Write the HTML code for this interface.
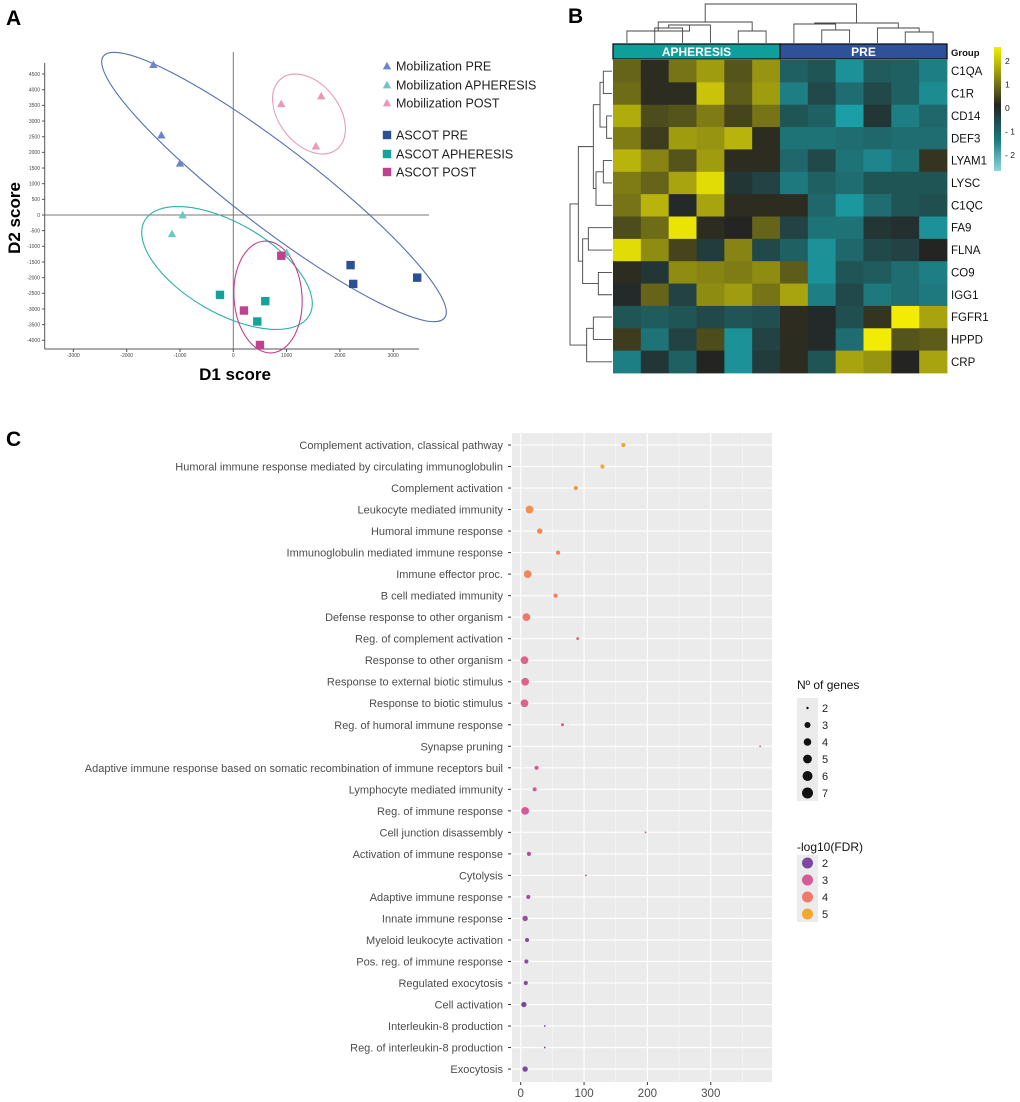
<!DOCTYPE html>
<html><head><meta charset="utf-8">
<style>
html,body{margin:0;padding:0;background:#fff;}
svg{display:block;font-family:"Liberation Sans",sans-serif;}
</style></head>
<body>
<svg id="fig" width="1020" height="1102" viewBox="0 0 1020 1102" xmlns="http://www.w3.org/2000/svg">
<text x="6" y="25" font-size="21" font-weight="bold">A</text>
<text x="568" y="23" font-size="21" font-weight="bold">B</text>
<text x="6" y="446" font-size="21" font-weight="bold">C</text>
<g id="pa"></g>
<g id="pb"></g>
<g id="pc"></g>
</svg>
<script>
const NS="http://www.w3.org/2000/svg";
function mk(parent,tag,attrs,text){const e=document.createElementNS(NS,tag);for(const k in attrs)e.setAttribute(k,attrs[k]);if(text!==undefined)e.textContent=text;parent.appendChild(e);return e;}

// ---------- Panel A data ----------
const aGroups=["Mobilization PRE","Mobilization APHERESIS","Mobilization POST","ASCOT PRE","ASCOT APHERESIS","ASCOT POST"];
const aD1=[[-1500,-1350,-1000],[-950,-1150,1000],[900,1650,1550],[2200,2250,3450],[-250,600,450],[900,200,500]];
const aD2=[[4800,2550,1650],[0,-600,-1200],[3550,3800,2200],[-1600,-2200,-2000],[-2550,-2750,-3400],[-1300,-3050,-4150]];
const aXTicks=[-3000,-2000,-1000,0,1000,2000,3000];
const aYTicks=[4500,4000,3500,3000,2500,2000,1500,1000,500,0,-500,-1000,-1500,-2000,-2500,-3000,-3500,-4000];

// ---------- Panel B data ----------
const bRows=["C1QA","C1R","CD14","DEF3","LYAM1","LYSC","C1QC","FA9","FLNA","CO9","IGG1","FGFR1","HPPD","CRP"];
const bGroups=["APHERESIS","PRE"];
const bVals=[
[0.8,0.1,1.0,1.5,0.6,1.4,-1.0,-0.8,-1.8,-0.9,-1.0,-1.5],
[0.9,0.1,0.1,2.0,0.7,1.5,-1.5,-0.6,-1.2,-0.6,-1.0,-1.7],
[1.7,0.5,0.6,1.1,0.4,1.0,-0.8,-1.0,-2.0,-0.3,-1.5,-1.1],
[1.1,0.3,1.5,1.4,1.8,0.1,-1.3,-1.3,-1.2,-1.1,-1.2,-1.2],
[1.8,1.2,0.6,1.5,0.1,0.1,-1.1,-0.6,-1.3,-1.6,-1.3,0.2],
[1.1,0.8,1.6,2.3,-0.3,-0.5,-1.4,-1.0,-1.2,-0.8,-0.8,-0.8],
[1.0,1.8,-0.1,1.6,0.1,0.1,0.1,-1.1,-1.9,-1.2,-0.8,-0.7],
[0.5,0.9,2.4,0.1,0.0,0.8,-0.5,-1.3,-1.3,-0.3,-0.2,-1.8],
[2.3,1.3,0.4,-0.4,1.2,-0.6,-1.0,-1.8,-1.1,-0.6,-0.5,0.0],
[0.1,-0.3,1.3,1.2,1.1,1.3,0.7,-1.8,-0.8,-0.9,-1.2,-1.5],
[-0.1,0.8,-0.5,1.3,1.5,1.0,1.6,-1.5,-0.6,-1.4,-1.2,-1.4],
[-0.8,-0.9,-0.8,-0.6,-0.8,-0.7,0.1,-0.1,-0.7,0.2,2.5,1.6],
[0.3,-1.3,-0.5,0.5,-1.8,-0.5,0.1,-0.1,-1.2,2.5,0.6,0.7],
[-1.5,-0.3,-1.0,0.0,-1.8,-0.4,0.1,-0.8,1.6,1.4,0.0,1.6]];
const bScaleTicks=[2,1,0,-1,-2];

// ---------- Panel C data ----------
const cTerms=["Complement activation, classical pathway","Humoral immune response mediated by circulating immunoglobulin","Complement activation","Leukocyte mediated immunity","Humoral immune response","Immunoglobulin mediated immune response","Immune effector proc.","B cell mediated immunity","Defense response to other organism","Reg. of complement activation","Response to other organism","Response to external biotic stimulus","Response to biotic stimulus","Reg. of humoral immune response","Synapse pruning","Adaptive immune response based on somatic recombination of immune receptors buil","Lymphocyte mediated immunity","Reg. of immune response","Cell junction disassembly","Activation of immune response","Cytolysis","Adaptive immune response","Innate immune response","Myeloid leukocyte activation","Pos. reg. of immune response","Regulated exocytosis","Cell activation","Interleukin-8 production","Reg. of interleukin-8 production","Exocytosis"];
const cEnrich=[162,129,87,14,30,59,11,55,9,90,6,7,6,66,378,25,22,7,197,13,103,12,7,10,9,8,5,38,38,7];
const cGenes=[4,4,4,7,5,4,7,4,7,3,7,7,7,3,2,4,4,7,2,4,2,4,5,4,4,4,5,2,2,5];
const cFDR=[5.2,5.0,4.6,4.5,4.3,4.2,4.3,4.2,3.9,3.5,3.3,3.3,3.3,3.1,3.0,3.0,3.0,3.0,2.7,2.5,2.4,2.4,2.3,2.2,2.2,2.1,2.0,2.0,2.0,2.0];
const cXTicks=[0,100,200,300];
const cSizeLegend=[2,3,4,5,6,7];
const cColorLegend=[2,3,4,5];

// ================= Panel A =================
(function(){
const g=document.getElementById('pa');
const ax=v=>233.3+v*0.0533, ay=v=>215-v*0.03132;
mk(g,'line',{x1:44.7,y1:63,x2:44.7,y2:349,stroke:'#555','stroke-width':1});
mk(g,'line',{x1:44.7,y1:349,x2:419,y2:349,stroke:'#555','stroke-width':1});
mk(g,'line',{x1:ax(0),y1:52,x2:ax(0),y2:349,stroke:'#777','stroke-width':1});
mk(g,'line',{x1:44.7,y1:ay(0),x2:429,y2:ay(0),stroke:'#777','stroke-width':1});
aYTicks.forEach(t=>{mk(g,'line',{x1:42,y1:ay(t),x2:44.7,y2:ay(t),stroke:'#555'});
 mk(g,'text',{x:40,y:ay(t)+1.8,'font-size':5,'text-anchor':'end',fill:'#444'},String(t));});
aXTicks.forEach(t=>{mk(g,'line',{x1:ax(t),y1:349,x2:ax(t),y2:352,stroke:'#555'});
 mk(g,'text',{x:ax(t),y:357,'font-size':5,'text-anchor':'middle',fill:'#444'},String(t));});
const ells=[{cx:274,cy:187,rx:215,ry:40,a:37.5,c:'#5470b0'},{cx:227,cy:268,rx:95,ry:45,a:30,c:'#2bb0aa'},{cx:268,cy:297,rx:34,ry:56,a:-4,c:'#c0408a'},{cx:309,cy:114,rx:45,ry:30,a:52,c:'#e79ab8'}];
ells.forEach((e,i)=>{const el=mk(g,'ellipse',{cx:e.cx,cy:e.cy,rx:e.rx,ry:e.ry,transform:`rotate(${e.a} ${e.cx} ${e.cy})`,fill:'none',stroke:e.c,'stroke-width':1.1});
 });
const cols=['#6a86c8','#6cc6c4','#e99ab8','#2c4f96','#12a39a','#c0428e'];
const drawMark=(x,y,k,s)=>{
 if(k<3) return mk(g,'polygon',{points:`${x},${y-s} ${x-s},${y+s*0.8} ${x+s},${y+s*0.8}`,fill:cols[k]});
 return mk(g,'rect',{x:x-s,y:y-s,width:2*s,height:2*s,fill:cols[k]});};
aD1.forEach((xs,k)=>xs.forEach((v,i)=>{const m=drawMark(ax(v),ay(aD2[k][i]),k,4.2);
 }));
const ly=[66,85,103,135,154,172];
aGroups.forEach((n,k)=>{const m=drawMark(387,ly[k],k,4.2);
 const t=mk(g,'text',{x:396,y:ly[k]+4.5,'font-size':12.5,fill:'#222'},n);});
mk(g,'text',{x:235,y:380,'font-size':17,'font-weight':'bold','text-anchor':'middle',},'D1 score');
mk(g,'text',{x:0,y:0,'font-size':17,'font-weight':'bold','text-anchor':'middle',transform:'translate(20,218) rotate(-90)',},'D2 score');
})();

// ================= Panel B =================
(function(){
const g=document.getElementById('pb');
const x0=613,x1=947,y0=60,y1=373,nc=12,nr=14,cw=(x1-x0)/nc,rh=(y1-y0)/nr;
function col(v){const lerp=(a,b,t)=>Math.round(a+(b-a)*t);
 if(v>=0){const t=Math.min(v/2.5,1);return `rgb(${lerp(36,242,t)},${lerp(36,236,t)},${lerp(34,4,t)})`;}
 const t=Math.min(-v/2.2,1);return `rgb(${lerp(36,26,t)},${lerp(36,170,t)},${lerp(34,178,t)})`;}
bVals.forEach((row,r)=>row.forEach((v,c)=>{const e=mk(g,'rect',{x:x0+c*cw,y:y0+r*rh,width:cw+0.4,height:rh+0.4,fill:col(v)});
 }));
bRows.forEach((n,r)=>{const t=mk(g,'text',{x:951,y:y0+(r+0.5)*rh+4,'font-size':11.5,fill:'#111'},n);
 });
const gc=['#0e9f9a','#2e519a'];
bGroups.forEach((n,i)=>{mk(g,'rect',{x:x0+i*6*cw,y:44,width:6*cw,height:15,fill:gc[i],stroke:'#111','stroke-width':1.3,});
 mk(g,'text',{x:x0+(i*6+3)*cw,y:56,'font-size':12,'font-weight':'bold',fill:'#fff','text-anchor':'middle'},n);});
mk(g,'text',{x:951,y:56,'font-size':9.5,'font-weight':'bold',fill:'#111',},'Group');
const defs=mk(g,'defs',{});const lg=mk(defs,'linearGradient',{id:'cb',x1:0,y1:0,x2:0,y2:1});
[[0,'#f4ee00'],[0.2,'#a0a010'],[0.47,'#242422'],[0.75,'#1a7a80'],[1,'#8fd6dc']].forEach(s=>mk(lg,'stop',{offset:s[0],'stop-color':s[1]}));
mk(g,'rect',{x:994,y:47,width:7,height:124,fill:'url(#cb)',});
const cy=v=>108-v*23.5;
bScaleTicks.forEach(t=>mk(g,'text',{x:1005,y:cy(t)+3,'font-size':8.5,fill:'#222'},t<0?'- '+(-t):String(t)));
const cx=i=>x0+(i+0.5)*cw, ry=i=>y0+(i+0.5)*rh;
function top(node){if(typeof node==='number')return {p:cx(node),h:43};
 const a=top(node[0]),b=top(node[1]),h=node[2];
 mk(g,'path',{d:`M${a.p},${a.h}V${h}H${b.p}V${b.h}`,fill:'none',stroke:'#444','stroke-width':0.9});return {p:(a.p+b.p)/2,h:h};}
top([[[0,[[1,2,28],3,25],31],[4,5,31],22],[[6,[7,8,30],24],[9,[10,11,32],28],23],4]);
function left(node){if(typeof node==='number')return {p:ry(node),h:612};
 const a=left(node[0]),b=left(node[1]),h=540+node[2]/3;
 mk(g,'path',{d:`M${a.h},${a.p}H${h}V${b.p}H${b.h}`,fill:'none',stroke:'#444','stroke-width':0.9});return {p:(a.p+b.p)/2,h:h};}
left([[[[[0,1,190],[2,3,200],180],[[4,5,190],6,168],160],[[7,8,145],[9,10,175],128],115],[[11,12,160],13,140],90]);
})();

// ================= Panel C =================
(function(){
const g=document.getElementById('pc');
const px0=512,px1=772,py0=433,py1=1082;
const sx=v=>520.7+v*0.6335, sy=i=>445+i*21.52;
mk(g,'rect',{x:px0,y:py0,width:px1-px0,height:py1-py0,fill:'#ebebeb',});
[50,150,250,350].forEach(v=>mk(g,'line',{x1:sx(v),y1:py0,x2:sx(v),y2:py1,stroke:'#f6f6f6','stroke-width':0.6}));
cXTicks.forEach(v=>mk(g,'line',{x1:sx(v),y1:py0,x2:sx(v),y2:py1,stroke:'#fff','stroke-width':1.1}));
cTerms.forEach((t,i)=>{mk(g,'line',{x1:px0,y1:sy(i),x2:px1,y2:sy(i),stroke:'#fff','stroke-width':1.1});
 mk(g,'line',{x1:508,y1:sy(i),x2:511,y2:sy(i),stroke:'#333','stroke-width':1});
 const e=mk(g,'text',{x:503,y:sy(i)+4,'font-size':11,fill:'#4d4d4d','text-anchor':'end'},t);
 });
cXTicks.forEach(v=>{mk(g,'line',{x1:sx(v),y1:py1,x2:sx(v),y2:py1+3,stroke:'#333'});
 mk(g,'text',{x:sx(v),y:py1+15,'font-size':11.5,fill:'#4d4d4d','text-anchor':'middle'},String(v));});
const rad=n=>0.9+(n-2)*0.6;
const lrad=n=>[1.2,3,3.8,4.4,5,5.5][n-2];
function fcol(f){const st=[[2,[125,72,160]],[3,[212,90,154]],[4,[238,122,106]],[5,[240,168,48]]];
 f=Math.max(2,Math.min(5,f));let i=Math.min(2,Math.floor(f-2));const t=f-st[i][0];
 const a=st[i][1],b=st[i+1][1];return `rgb(${a.map((v,k)=>Math.round(v+(b[k]-v)*t)).join(',')})`;}
cEnrich.forEach((v,i)=>{const c=mk(g,'circle',{cx:sx(v),cy:sy(i),r:rad(cGenes[i]),fill:fcol(cFDR[i])});
 });
mk(g,'text',{x:797,y:689,'font-size':12,fill:'#111',},'Nº of genes');
mk(g,'rect',{x:797,y:698,width:21,height:103,fill:'#ebebeb'});
cSizeLegend.forEach((n,i)=>{const y=708+i*17;mk(g,'circle',{cx:807.5,cy:y,r:lrad(n),fill:'#111'});
 const t=mk(g,'text',{x:822,y:y+4,'font-size':11,fill:'#222'},String(n));});
mk(g,'text',{x:797,y:851,'font-size':12,fill:'#111',},'-log10(FDR)');
mk(g,'rect',{x:797,y:855,width:21,height:67,fill:'#ebebeb'});
cColorLegend.forEach((f,i)=>{const y=863+i*17;mk(g,'circle',{cx:807.5,cy:y,r:5.5,fill:fcol(f)});
 const t=mk(g,'text',{x:822,y:y+4,'font-size':11,fill:'#222'},String(f));});
})();
</script>
</body></html>
